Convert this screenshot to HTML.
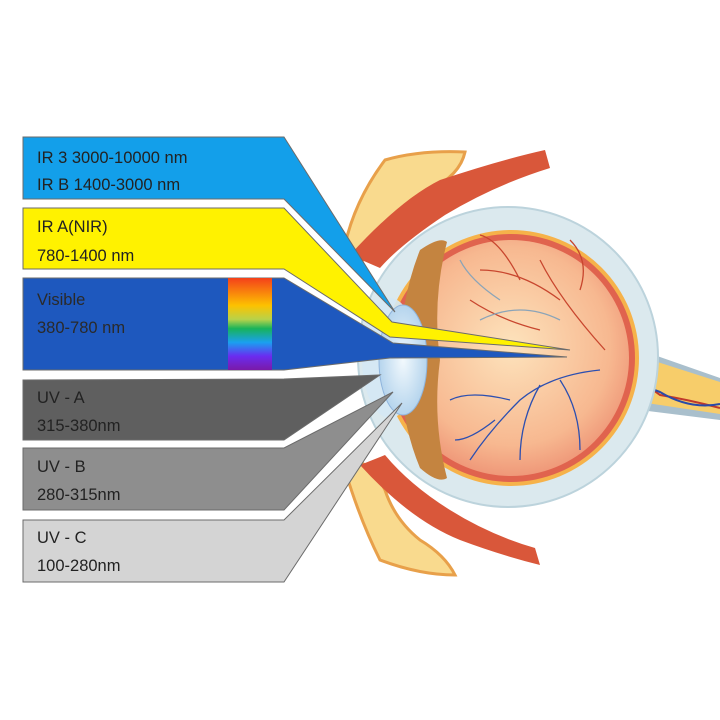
<!DOCTYPE html>
<html><head><meta charset="utf-8"><style>
body{margin:0;background:#fff}
svg{display:block}
text{font-family:"Liberation Sans",sans-serif;font-size:16.5px;fill:#222}
</style></head><body>
<svg width="720" height="720" viewBox="0 0 720 720" xmlns="http://www.w3.org/2000/svg">
<defs>
<linearGradient id="spec" x1="0" y1="0" x2="0" y2="1">
<stop offset="0" stop-color="#f4401a"/><stop offset="0.3" stop-color="#fdc200"/><stop offset="0.45" stop-color="#b8d24a"/><stop offset="0.55" stop-color="#18b35a"/><stop offset="0.7" stop-color="#1aa0f0"/><stop offset="0.85" stop-color="#6a2cf0"/><stop offset="1" stop-color="#7a1aa8"/>
</linearGradient>
<radialGradient id="vit" cx="0.5" cy="0.45" r="0.6">
<stop offset="0" stop-color="#fde3bc"/><stop offset="0.7" stop-color="#f7b890"/><stop offset="1" stop-color="#ec8c70"/>
</radialGradient>
<radialGradient id="lens" cx="0.5" cy="0.5" r="0.6">
<stop offset="0" stop-color="#f2f9fd"/><stop offset="1" stop-color="#a9cdea"/>
</radialGradient>
</defs>
<!-- bones top -->
<path d="M345 245 Q355 200 385 160 Q420 150 465 152 Q460 175 430 190 Q400 200 390 230 Q380 250 360 262 Z" fill="#f9da8e" stroke="#e8a04a" stroke-width="3"/>
<path d="M350 255 Q400 200 440 180 Q500 160 545 150 L550 168 Q495 185 445 215 Q400 245 380 268 Z" fill="#d9573a"/>
<!-- bones bottom -->
<path d="M345 470 Q360 520 380 560 Q420 575 455 575 Q445 555 420 540 Q395 520 385 490 Q375 470 360 462 Z" fill="#f9da8e" stroke="#e8a04a" stroke-width="3"/>
<path d="M360 465 Q410 520 460 540 Q500 555 540 565 L535 548 Q490 535 450 510 Q410 485 385 455 Z" fill="#d9573a"/>
<!-- optic nerve -->
<path d="M600 330 L640 350 L720 378 L720 420 L640 410 L600 400 Z" fill="#a9bfcc"/>
<path d="M605 338 L645 358 L720 382 L720 414 L640 402 L605 392 Z" fill="#f7cd6a"/>
<path d="M600 355 Q640 380 660 395 Q690 400 720 408" stroke="#c0392b" stroke-width="2" fill="none"/>
<path d="M600 360 Q640 385 660 392 Q690 410 720 404" stroke="#2a4aa8" stroke-width="2" fill="none"/>
<!-- sclera -->
<circle cx="508" cy="357" r="150" fill="#dbe9ee" stroke="#bcd3dc" stroke-width="2"/>
<circle cx="511" cy="358" r="128" fill="#f6b24a"/>
<circle cx="511" cy="358" r="124" fill="#e0634e"/>
<circle cx="511" cy="358" r="118" fill="url(#vit)"/>
<!-- brown ciliary band -->
<path d="M420 250 Q440 236 447 242 Q432 300 440 360 Q432 420 447 478 Q438 484 420 468 Q400 420 400 360 Q400 300 420 250 Z" fill="#c48440"/>
<!-- vessels -->
<g fill="none" stroke-width="1.3">
<path d="M605 350 Q560 300 540 260 M560 300 Q520 270 480 270 M540 330 Q500 320 470 300 M580 290 Q590 260 570 240 M520 280 Q500 240 480 235" stroke="#c8462e"/>
<path d="M600 370 Q550 375 520 400 Q490 430 470 460 M540 385 Q520 420 520 460 M510 400 Q470 390 450 400 M560 380 Q580 410 580 450 M495 420 Q470 440 455 440" stroke="#2c4fb0"/>
<path d="M560 320 Q520 300 480 320 M500 300 Q470 280 460 260" stroke="#8aa4b8"/>
</g>
<!-- cornea / lens -->
<ellipse cx="390" cy="358" rx="28" ry="60" fill="#d4e8f4" opacity="0.9"/>
<ellipse cx="403" cy="360" rx="24" ry="55" fill="url(#lens)" stroke="#8fb4dc" stroke-width="1"/>
<!-- beams -->
<g stroke="#6b6b6b" stroke-width="1">
<polygon points="23,137 284,137 395,312 284,199 23,199" fill="#139fea"/>
<polygon points="23,208 284,208 392,322 570,350 390,337 284,269 23,269" fill="#fff200"/>
<polygon points="23,278 284,278 393,343 567,357 390,358 284,370 23,370" fill="#1e58be"/>
<polygon points="23,380 284,379 380,375 284,440 23,440" fill="#5f5f5f"/>
<polygon points="23,448 284,448 393,392 284,510 23,510" fill="#8e8e8e"/>
<polygon points="23,520 284,520 402,403 284,582 23,582" fill="#d4d4d4"/>
</g>
<rect x="228" y="278" width="44" height="92" fill="url(#spec)"/>
<text x="37" y="163">IR 3 3000-10000 nm</text>
<text x="37" y="190">IR B 1400-3000 nm</text>
<text x="37" y="232">IR A(NIR)</text>
<text x="37" y="261">780-1400 nm</text>
<text x="37" y="305" style="fill:#2a2a2a">Visible</text>
<text x="37" y="333" style="fill:#2a2a2a">380-780 nm</text>
<text x="37" y="403">UV - A</text>
<text x="37" y="431">315-380nm</text>
<text x="37" y="472">UV - B</text>
<text x="37" y="500">280-315nm</text>
<text x="37" y="543">UV - C</text>
<text x="37" y="571">100-280nm</text>
</svg>
</body></html>
